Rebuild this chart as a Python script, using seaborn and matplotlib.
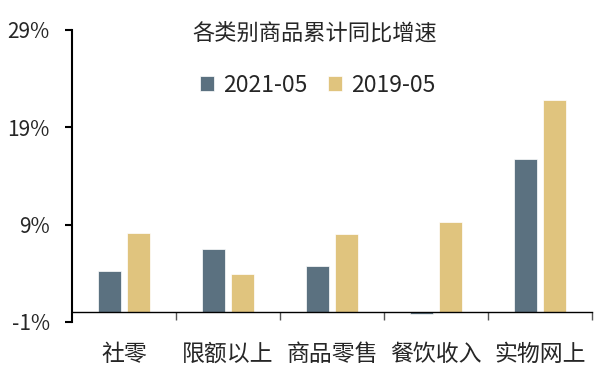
import pandas as pd
import matplotlib.pyplot as plt
import seaborn as sns

# values (%)
categories = ["社零", "限额以上", "商品零售", "餐饮收入", "实物网上"]
series_names = ["2021-05", "2019-05"]
vals_2021 = [4.2, 6.5, 4.8, -0.2, 15.7]
vals_2019 = [8.1, 3.9, 8.0, 9.3, 21.8]
yticks = [-1, 9, 19, 29]
colors = ["#5B7180", "#E0C47E"]


def main():
    rows = []
    for name, vals in zip(series_names, [vals_2021, vals_2019]):
        for c, v in zip(categories, vals):
            rows.append([c, name, v])
    df = pd.DataFrame(rows, columns=["类别", "期间", "增速"])

    sns.set_theme(style="white")
    plt.rcParams['font.family'] = ['Noto Sans CJK SC', 'DejaVu Sans']

    fig = plt.figure(figsize=(6.02, 3.83), dpi=100)
    ax = fig.add_axes([72 / 602, 1 - 322 / 383, 520 / 602, 292 / 383])

    sns.barplot(data=df, x="类别", y="增速", hue="期间", hue_order=series_names,
                order=categories, palette=colors, saturation=1, width=0.56, gap=0.2,
                edgecolor="white", linewidth=0.5, ax=ax)

    ax.set_ylim(-1, 29)
    ax.set_xlim(-0.5, 4.5)
    ax.set_yticks(yticks)
    ax.set_yticklabels(["{}%".format(t) for t in yticks], fontsize=15)
    ax.tick_params(axis='y', left=True, direction='out', length=5, width=1.5,
                   color='black', pad=11)

    # x axis sits on zero, with marks between categories
    ax.spines['bottom'].set_position(('data', 0))
    ax.spines['bottom'].set_linewidth(1.0)
    ax.spines['bottom'].set_color('black')
    ax.spines['left'].set_linewidth(1.5)
    ax.spines['left'].set_color('black')
    ax.spines['top'].set_visible(False)
    ax.spines['right'].set_visible(False)
    ax.set_xticks(range(len(categories)))
    ax.set_xticklabels(categories, fontsize=16.5)
    ax.set_xticks([i + 0.5 for i in range(len(categories))], minor=True)
    ax.tick_params(axis='x', which='major', bottom=True, length=0, pad=22)
    ax.tick_params(axis='x', which='minor', bottom=True, direction='out', length=6,
                   width=1, color='#555555')
    ax.set_xlabel("")
    ax.set_ylabel("")

    fig.text(315 / 602, 1 - 33 / 383, "各类别商品累计同比增速", ha='center', va='center',
             fontsize=16)
    ax.legend(loc='center', bbox_to_anchor=(318 / 602, 1 - 85 / 383),
              bbox_transform=fig.transFigure, ncol=2, frameon=False, fontsize=16.5,
              handlelength=0.6, handleheight=0.6, handletextpad=0.4, columnspacing=0.9)

    plt.savefig("out.png", dpi=100)
    plt.close()


if __name__ == "__main__":
    main()
